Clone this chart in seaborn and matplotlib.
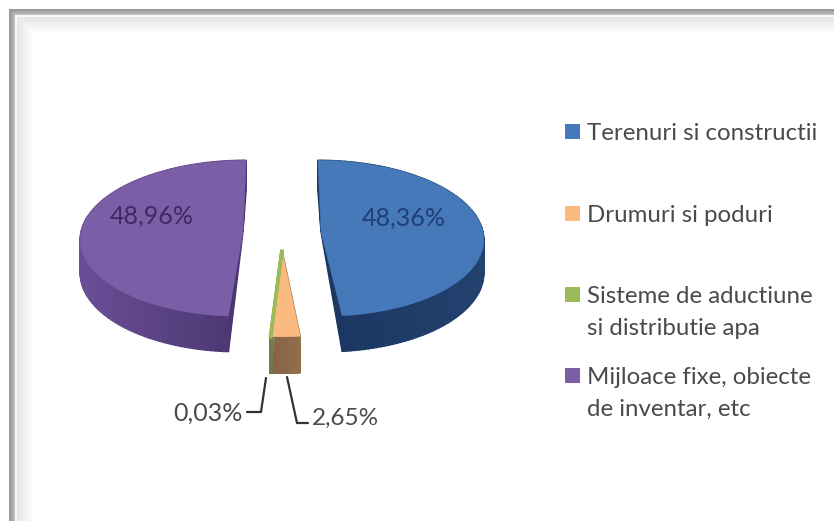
import numpy as np
import matplotlib.pyplot as plt
import matplotlib.colors as mcolors
from matplotlib.patches import Polygon, Rectangle
import seaborn as sns

# values
categories = ["Terenuri si constructii", "Drumuri si poduri", "Sisteme de aductiune\nsi distributie apa", "Mijloace fixe, obiecte\nde inventar, etc"]
shares = [48.36, 2.65, 0.03, 48.96]
value_labels = ["48,36%", "2,65%", "0,03%", "48,96%"]

top_colors = ["#4679BA", "#FBBB80", "#9BBB59", "#7B5FA6"]
side_light = ["#22426F", "#91704A", "#7C8F52", "#6A4F96"]
side_dark = ["#1A3560", "#8A6045", "#6C7F48", "#4A3670"]

sns.set_theme(style="white")
plt.rcParams["font.family"] = ["Lato", "DejaVu Sans"]

W, H = 834, 521
fig = plt.figure(figsize=(W / 100, H / 100), dpi=100, facecolor="white")
ax = fig.add_axes([0, 0, 1, 1])
ax.set_xlim(0, W)
ax.set_ylim(H, 0)
ax.axis("off")

# window frame: hard grey line, small white gap, then a soft fade
frame_left = [(9, "#9A9A9A"), (11, "#A8A8A8"), (12, "#B4B4B4"), (13, "#C4C4C4"), (14, "#F4F4F4"), (15, "#FAFAFA")]
for off in range(16, 32):
    grey = 0.90 + 0.10 * (off - 16) / 16
    frame_left.append((off, mcolors.to_hex((grey, grey, grey))))
for pos, col in reversed(frame_left):
    ax.add_patch(Rectangle((pos, pos), 2, H, color=col, lw=0, zorder=1))
    ax.add_patch(Rectangle((pos, pos), W, 2, color=col, lw=0, zorder=1))

# pie geometry
xc, yc = 282, 232
rx, ry = 162, 78
depth = 33
persp = 0.08
start = 0.0
explode_x = [39, 0, 0, -39]
explode_y = [0, 17.5, 17.5, 0]


def project(gx, gy):
    s = 1 + persp * gy / ry
    return xc + gx * s, yc + gy * s


sweeps = np.cumsum([0] + shares) * 3.6 + start
for idx in [3, 0, 1, 2]:
    a0, a1 = sweeps[idx], sweeps[idx + 1]
    th = np.radians(np.linspace(a0, a1, 120))
    gx = np.r_[0, rx * np.sin(th), 0] + explode_x[idx]
    gy = np.r_[0, -ry * np.cos(th), 0] + explode_y[idx]
    px, py = project(gx, gy)
    s = 1 + persp * gy / ry
    # the wall tapers to nothing at the apex, as in the original
    taper = np.r_[0, np.ones(len(th)), 0]
    low_y = py + depth * s * taper

    # side walls, front-most last
    quads = []
    for k in range(len(px) - 1):
        quads.append((py[k] + py[k + 1], k))
    xmin, xmax = px.min(), px.max()
    for _, k in sorted(quads):
        f = (px[k] - xmin) / max(xmax - xmin, 1)
        if idx != 3:
            f = 1 - f
        col = np.array(mcolors.to_rgb(side_light[idx])) * (1 - f) + np.array(mcolors.to_rgb(side_dark[idx])) * f
        ax.add_patch(Polygon([(px[k], py[k]), (px[k + 1], py[k + 1]), (px[k + 1], low_y[k + 1]), (px[k], low_y[k])],
                             closed=True, facecolor=col, edgecolor=col, lw=1.0, zorder=3))
    lw = 2.5 if shares[idx] < 0.5 else 0.3
    ax.add_patch(Polygon(np.c_[px, py], closed=True, facecolor=top_colors[idx], edgecolor=top_colors[idx], lw=lw, zorder=4))

# legend, drawn by hand because rows are unevenly spaced
legend_y = [131, 213, 294, 375]
for cat, col, y in zip(categories, top_colors, legend_y):
    ax.add_patch(Rectangle((565, y - 7.5), 15, 15, color=col, lw=0, zorder=5))
    ax.text(587, y - 8, cat, color="#4A4A4A", fontsize=17.3, va="top", ha="left", linespacing=1.62, zorder=5)

# data labels
ax.text(404, 218, value_labels[0], color="#1F3F75", fontsize=18, ha="center", va="center", zorder=6)
ax.text(152, 216, value_labels[3], color="#3D2A63", fontsize=18, ha="center", va="center", zorder=6)
ax.text(208, 413, value_labels[2], color="#4A4A4A", fontsize=18, ha="center", va="center", zorder=6)
ax.text(345, 418, value_labels[1], color="#4A4A4A", fontsize=17.5, ha="center", va="center", zorder=6)

# leader lines
ax.plot([266, 261, 247], [378, 412, 412], color="#333333", lw=1.6, zorder=5)
ax.plot([287, 297, 308], [377, 423, 423], color="#333333", lw=1.6, zorder=5)

fig.savefig("out.png", dpi=100)
